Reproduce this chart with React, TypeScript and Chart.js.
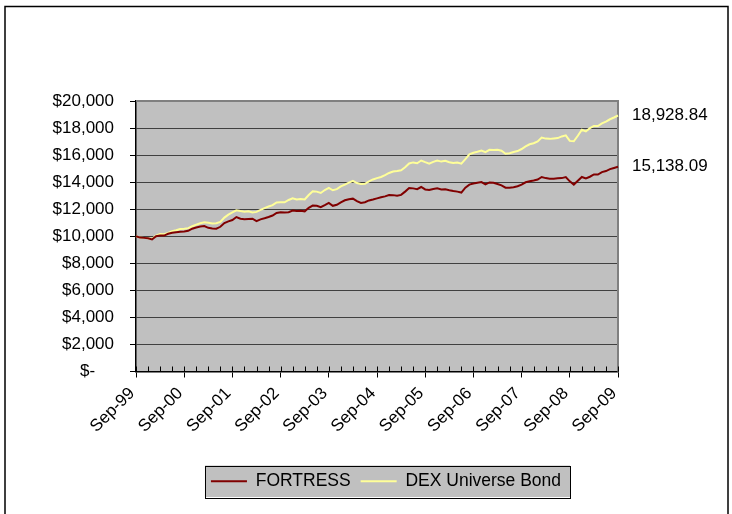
import React, { useEffect, useRef } from "react";
import { Chart, registerables } from "chart.js";

Chart.register(...registerables);

const MONTH_NAMES = ["Jan", "Feb", "Mar", "Apr", "May", "Jun", "Jul", "Aug", "Sep", "Oct", "Nov", "Dec"];
const START_YEAR = 1999;
const START_MONTH = 8; // Sep

const FORTRESS = [
  10000, 9900, 9880, 9850, 9760, 10000, 10060, 10050, 10180, 10260,
  10300, 10340, 10350, 10400, 10560, 10650, 10720, 10750, 10620, 10580,
  10560, 10700, 10980, 11100, 11200, 11420, 11300, 11260, 11280, 11300,
  11120, 11250, 11330, 11420, 11530, 11720, 11780, 11760, 11780, 11900,
  11860, 11880, 11840, 12100, 12270, 12250, 12150, 12300, 12460, 12250,
  12330, 12510, 12660, 12740, 12780, 12600, 12460, 12520, 12650, 12720,
  12800, 12880, 12950, 13050, 13040, 12990, 13060, 13300, 13560, 13540,
  13480, 13640, 13460, 13420, 13500, 13540, 13460, 13480, 13400, 13340,
  13300, 13230, 13590, 13820, 13900, 13960, 14010, 13840, 13980, 13950,
  13860, 13760, 13590, 13580, 13620, 13700, 13820, 13990, 14060, 14120,
  14190, 14380, 14300, 14260, 14250, 14280, 14300, 14380, 14060, 13820,
  14100, 14380, 14280, 14400, 14570, 14560, 14740, 14820, 14960, 15050,
  15138.09,
];

const DEX = [
  10000, 9900, 9880, 9860, 9820, 10050, 10170, 10150, 10250, 10380,
  10450, 10540, 10560, 10600, 10740, 10860, 10960, 11040, 11000, 10950,
  10960, 11060, 11380, 11600, 11760, 11920, 11860, 11820, 11850, 11760,
  11800, 11950, 12080, 12200, 12300, 12500, 12520, 12510, 12680, 12800,
  12720, 12750, 12720, 13050, 13330, 13300, 13200, 13420, 13570, 13400,
  13480, 13690, 13820, 13970, 14100, 13930, 13860, 13880, 14050, 14200,
  14300, 14380, 14520, 14680, 14780, 14820, 14880, 15100, 15380, 15460,
  15400, 15600, 15480, 15370, 15500, 15600, 15520, 15580, 15470, 15420,
  15450, 15370, 15700, 16050, 16170, 16250, 16340, 16220, 16390, 16380,
  16400, 16320, 16100, 16140, 16230, 16300, 16450, 16640, 16800, 16880,
  17010, 17300, 17220, 17200, 17230, 17260, 17380, 17460, 17050, 17020,
  17430, 17870, 17750, 17990, 18160, 18150, 18350, 18480, 18650, 18780,
  18928.84,
];

const SERIES_NAMES = ["FORTRESS", "DEX Universe Bond"];
const SERIES_COLORS = ["#800000", "#FFFF99"];

const CATEGORIES: string[] = FORTRESS.map((_, i) => {
  const mm = START_MONTH + i;
  const yr = START_YEAR + Math.floor(mm / 12);
  return MONTH_NAMES[mm % 12] + "-" + String(yr % 100).padStart(2, "0");
});

const Y_MIN = 0;
const Y_MAX = 20000;
const Y_STEP = 2000;
const END_VALUES = [FORTRESS[FORTRESS.length - 1], DEX[DEX.length - 1]];

const FONT = "'Liberation Sans', Arial, Helvetica, sans-serif";

const decorPlugin = {
  id: "decor",
  beforeDraw(chart: any) {
    const { ctx, chartArea } = chart;
    ctx.save();
    ctx.fillStyle = "#C0C0C0";
    ctx.fillRect(chartArea.left, chartArea.top, chartArea.right - chartArea.left, chartArea.bottom - chartArea.top);
    // legend background box
    const lg = chart.legend;
    if (lg && lg.legendHitBoxes && lg.legendHitBoxes.length) {
      const hb = lg.legendHitBoxes;
      const l = hb[0].left - 6;
      const last = hb[hb.length - 1];
      const r = last.left + last.width + 9;
      const t = hb[0].top - 7;
      const b = hb[0].top + hb[0].height + 7;
      ctx.fillStyle = "#C0C0C0";
      ctx.fillRect(l, t, r - l, b - t);
      ctx.strokeStyle = "#000";
      ctx.lineWidth = 1;
      ctx.strokeRect(Math.round(l) + 0.5, Math.round(t) + 0.5, Math.round(r - l), Math.round(b - t));
    }
    ctx.restore();
  },
  beforeDatasetsDraw(chart: any) {
    const { ctx, chartArea } = chart;
    const xs = chart.scales.x;
    ctx.save();
    // plot border (top/right)
    ctx.strokeStyle = "#808080";
    ctx.lineWidth = 2;
    ctx.beginPath();
    ctx.moveTo(chartArea.left, chartArea.top);
    ctx.lineTo(chartArea.right, chartArea.top);
    ctx.lineTo(chartArea.right, chartArea.bottom);
    ctx.stroke();
    // minor inside ticks on x axis every 3 months
    ctx.strokeStyle = "#000";
    ctx.lineWidth = 1;
    ctx.beginPath();
    for (let i = 0; i < CATEGORIES.length; i += 3) {
      const px = Math.round(xs.getPixelForValue(i)) + 0.5;
      ctx.moveTo(px, chartArea.bottom);
      ctx.lineTo(px, chartArea.bottom - 5);
    }
    ctx.stroke();
    ctx.restore();
  },
  afterDraw(chart: any) {
    const { ctx } = chart;
    ctx.save();
    ctx.strokeStyle = "#000";
    ctx.lineWidth = 1.5;
    ctx.strokeRect(5, 6.5, 723, 600);
    ctx.restore();
  },
};

export default function App() {
  const canvasRef = useRef<HTMLCanvasElement | null>(null);

  useEffect(() => {
    document.body.style.margin = "0";
    const canvas = canvasRef.current;
    if (!canvas) return;
    Chart.defaults.font.family = FONT;
    const chart = new Chart(canvas, {
      type: "line",
      data: {
        labels: CATEGORIES,
        datasets: [
          {
            label: SERIES_NAMES[0],
            data: FORTRESS,
            borderColor: SERIES_COLORS[0],
            backgroundColor: SERIES_COLORS[0],
            borderWidth: 2,
            pointRadius: 0,
            tension: 0,
            yAxisID: "y",
          },
          {
            label: SERIES_NAMES[1],
            data: DEX,
            borderColor: SERIES_COLORS[1],
            backgroundColor: SERIES_COLORS[1],
            borderWidth: 2,
            pointRadius: 0,
            tension: 0,
            yAxisID: "y",
          },
        ],
      },
      options: {
        responsive: false,
        animation: false,
        events: [],
        layout: { padding: { left: 40, right: 0, top: 101, bottom: 14 } },
        plugins: {
          tooltip: { enabled: false },
          title: { display: false },
          legend: {
            display: true,
            position: "bottom",
            labels: {
              color: "#000",
              font: { size: 17.5, family: FONT },
              boxWidth: 36,
              boxHeight: 2,
              padding: 10,
              generateLabels: (ch: any) =>
                ch.data.datasets.map((ds: any, i: number) => ({
                  text: ds.label,
                  fillStyle: ds.borderColor,
                  strokeStyle: ds.borderColor,
                  lineWidth: 0,
                  hidden: false,
                  datasetIndex: i,
                  fontColor: "#000",
                })),
            },
          },
        },
        scales: {
          x: {
            type: "category",
            offset: false,
            afterFit: (s: any) => {
              s.height = 91;
            },
            border: { display: true, color: "#000", width: 1.5 },
            grid: {
              display: true,
              drawOnChartArea: false,
              drawTicks: true,
              tickLength: 6,
              color: (c: any) => (c.index % 12 === 0 ? "#000" : "rgba(0,0,0,0)"),
              tickColor: (c: any) => (c.index % 12 === 0 ? "#000" : "rgba(0,0,0,0)"),
            },
            ticks: {
              autoSkip: false,
              maxRotation: 45,
              minRotation: 45,
              padding: 6,
              labelOffset: -4,
              color: "#000",
              font: { size: 17, family: FONT },
              callback: (_v: any, idx: number) => (idx % 12 === 0 ? CATEGORIES[idx] : ""),
            },
          },
          y: {
            type: "linear",
            position: "left",
            min: Y_MIN,
            max: Y_MAX,
            afterFit: (s: any) => {
              s.width = 96;
            },
            border: { display: true, color: "#000", width: 1.5 },
            grid: {
              display: true,
              drawOnChartArea: true,
              drawTicks: true,
              tickLength: 6,
              color: "#404040",
              tickColor: "#000",
              lineWidth: 1,
            },
            ticks: {
              stepSize: Y_STEP,
              padding: 16,
              color: "#000",
              font: { size: 17, family: FONT },
              callback: (v: any) => (Number(v) === 0 ? "$-    " : "$" + Number(v).toLocaleString("en-US")),
            },
          },
          y2: {
            type: "linear",
            position: "right",
            min: Y_MIN,
            max: Y_MAX,
            afterFit: (s: any) => {
              s.width = 114;
            },
            afterBuildTicks: (s: any) => {
              s.ticks = END_VALUES.map((v) => ({ value: v }));
            },
            border: { display: false },
            grid: { display: false, drawTicks: false },
            ticks: {
              autoSkip: false,
              padding: 14,
              color: "#000",
              font: { size: 17, family: FONT },
              callback: (v: any) =>
                Number(v).toLocaleString("en-US", { minimumFractionDigits: 2, maximumFractionDigits: 2 }),
            },
          },
        },
      },
      plugins: [decorPlugin],
    } as any);
    return () => {
      chart.destroy();
    };
  }, []);

  return (
    <div style={{ width: 732, height: 514, overflow: "hidden", position: "relative", background: "#fff" }}>
      <canvas ref={canvasRef} width={732} height={514} style={{ display: "block", width: 732, height: 514 }} />
    </div>
  );
}
